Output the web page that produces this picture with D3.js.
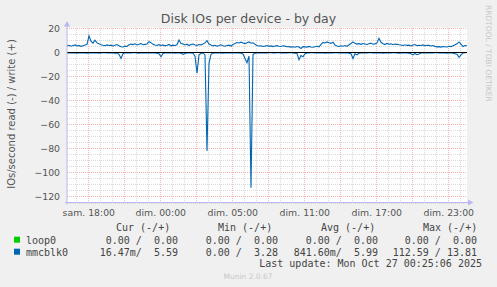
<!DOCTYPE html>
<html lang="fr">
<head>
<meta charset="utf-8">
<title>Disk IOs per device - by day</title>
<style>
  body { margin: 0; background: #f0f0f0; }
  svg { display: block; }
  .tick text { font-family: "DejaVu Sans", sans-serif; font-size: 9.33px; fill: #555; }
  .legend text { font-family: "DejaVu Sans Mono", monospace; font-size: 10px; fill: #444; white-space: pre; }
</style>
</head>
<body>
<script src="https://cdnjs.cloudflare.com/ajax/libs/d3/7.8.5/d3.min.js"></script>
<script>
// samples every 10 minutes, hours counted from "sam. 18:00"
var sampleStartHour = -1.775;
var sampleStepHours = 1 / 6;

// mmcblk0 write IOs/s (drawn above zero)
var writeIOs = [
  5.5, 6.0, 5.2, 5.8, 6.3, 5.4, 5.9, 5.1, 5.7, 6.2,
  6.8, 13.8, 9.5, 7.8, 10.2, 8.0, 7.2, 6.5, 6.0, 5.6,
  6.3, 5.8, 6.1, 5.4, 6.0, 6.6, 5.7, 4.8, 4.6, 5.3,
  5.0, 6.4, 7.0, 6.6, 7.2, 6.3, 6.9, 7.4, 6.5, 6.8,
  7.1, 9.0, 8.2, 6.8, 6.2, 5.8, 6.5, 5.9, 6.3, 5.5,
  6.0, 6.7, 5.6, 6.1, 5.8, 6.4, 10.4, 7.5, 7.2, 6.3,
  6.9, 5.8, 6.6, 7.0, 6.2, 5.9, 6.7, 6.4, 7.1, 8.0,
  9.8, 7.0, 6.2, 5.5, 6.0, 5.3, 5.8, 6.4, 5.6, 5.2,
  5.9, 6.1, 5.4, 6.6, 7.6, 8.3, 7.9, 8.6, 8.0, 7.4,
  8.2, 8.8, 7.7, 8.1, 6.8, 5.9, 5.4, 5.6, 5.0, 5.3,
  5.8, 5.1, 5.5, 4.9, 5.4, 5.7, 5.2, 5.0, 5.6, 5.3,
  4.8, 4.9, 4.5, 4.8, 4.4, 5.0, 4.6, 3.3, 4.9, 4.7,
  4.5, 5.1, 4.6, 4.4, 4.8, 5.2, 4.7, 6.8, 8.4, 7.9,
  8.8, 8.2, 7.6, 8.6, 6.2, 5.4, 5.0, 5.6, 5.2, 5.8,
  5.1, 6.4, 7.5, 8.8, 7.6, 7.0, 7.4, 6.8, 7.5, 7.1,
  6.7, 7.3, 7.8, 6.9, 7.2, 8.0, 11.8, 8.5, 7.3, 6.6,
  7.6, 6.9, 7.2, 6.5, 7.0, 6.8, 6.4, 6.3, 5.8, 6.4,
  5.9, 6.1, 5.5, 6.2, 6.6, 5.7, 6.0, 5.8, 6.3, 5.6,
  6.0, 5.9, 5.4, 5.8, 5.1, 4.7, 4.9, 4.5, 5.0, 4.8,
  4.6, 5.2, 4.9, 5.6, 6.4, 7.2, 8.8, 7.0, 5.0, 5.8,
  5.6
];

// mmcblk0 read IOs/s (drawn below zero)
var readIOs = [
  0.3, 0.2, 0.4, 0.1, 0.3, 0.5, 0.2, 0.3, 0.1, 0.4,
  0.6, 0.3, 0.2, 0.4, 0.3, 0.2, 0.5, 0.3, 0.1, 0.2,
  0.4, 0.3, 0.2, 0.3, 0.5, 0.4, 1.5, 4.9, 1.0, 0.3,
  0.2, 0.4, 0.3, 0.1, 0.2, 0.3, 0.5, 0.2, 0.3, 0.4,
  0.2, 0.3, 0.1, 0.4, 0.3, 0.6, 1.0, 3.5, 0.8, 0.3,
  0.2, 0.4, 0.3, 0.2, 0.5, 0.3, 0.4, 0.6, 1.5, 0.8,
  0.3, 0.2, 0.4, 0.6, 3.0, 17.3, 2.0, 0.6, 0.4, 2.0,
  82.0, 9.0, 1.5, 0.5, 0.3, 0.4, 0.2, 0.3, 0.5, 0.2,
  0.3, 0.4, 0.2, 0.3, 0.1, 0.3, 0.4, 0.6, 1.2, 5.0,
  8.5, 3.0, 112.6, 1.5, 0.6, 0.3, 0.2, 0.4, 0.3, 0.2,
  0.3, 0.1, 0.2, 0.4, 0.3, 0.2, 0.1, 0.3, 0.2, 0.4,
  0.3, 0.2, 0.1, 0.3, 0.5, 0.8, 6.0, 2.5, 3.5, 1.0,
  0.4, 0.3, 0.2, 0.1, 0.3, 0.2, 0.4, 0.3, 0.2, 0.5,
  0.3, 0.2, 0.4, 0.3, 0.2, 0.1, 0.3, 0.2, 0.4, 0.3,
  0.2, 0.6, 1.0, 5.0, 1.0, 2.0, 0.5, 0.3, 0.2, 0.4,
  0.3, 0.2, 0.1, 0.3, 0.2, 0.4, 0.3, 0.2, 0.5, 0.3,
  0.2, 0.4, 0.3, 0.1, 0.2, 0.3, 0.5, 0.4, 0.2, 0.3,
  0.4, 0.6, 1.0, 2.0, 0.8, 1.8, 1.2, 0.4, 0.3, 0.2,
  0.3, 0.2, 0.4, 0.3, 0.1, 0.2, 0.3, 0.4, 0.2, 0.3,
  0.5, 0.3, 0.2, 0.6, 1.0, 1.5, 4.0, 2.0, 0.4, 0.2,
  0.0
];

var xTickHours = [0, 6, 12, 18, 24, 30];
var xTickLabels = ["sam. 18:00", "dim. 00:00", "dim. 05:00", "dim. 11:00", "dim. 17:00", "dim. 23:00"];
var yTicks = [20, 0, -20, -40, -60, -80, -100, -120];

var legendNames = ["loop0", "mmcblk0"];
var legendColors = ["#00cc00", "#0066b3"];
var legendHeaders = ["Cur (-/+)", "Min (-/+)", "Avg (-/+)", "Max (-/+)"];
var legendStats = [
  ["0.00 /  0.00", "0.00 /  0.00", "0.00 /  0.00", "0.00 /  0.00"],
  ["16.47m/  5.59", "0.00 /  3.28", "841.60m/  5.99", "112.59 / 13.81"]
];
var lastUpdate = "Last update: Mon Oct 27 00:25:06 2025";

// plot box
var plot = {left: 67, right: 467, top: 27.5, bottom: 202.5};

var svg = d3.select("body").append("svg")
  .attr("width", 497)
  .attr("height", 287);

svg.append("rect").attr("width", 497).attr("height", 287).attr("fill", "#f0f0f0");

var xScale = d3.scaleLinear()
  .domain([sampleStartHour, sampleStartHour + (writeIOs.length - 1) * sampleStepHours])
  .range([plot.left, plot.right]);
var yScale = d3.scaleLinear()
  .domain([-125, 20.83])
  .range([plot.bottom, plot.top]);

svg.append("rect")
  .attr("x", plot.left).attr("y", plot.top)
  .attr("width", plot.right - plot.left).attr("height", plot.bottom - plot.top)
  .attr("fill", "#ffffff");

// grid: minor then major, dotted
function grid(axis, cls, color, transform) {
  var g = svg.append("g").attr("class", cls).attr("transform", transform).call(axis);
  g.select(".domain").remove();
  g.selectAll("line").attr("stroke", color).attr("stroke-dasharray", "1,1").attr("shape-rendering", "crispEdges");
  g.selectAll("text").remove();
}
var plotH = plot.bottom - plot.top;
var plotW = plot.right - plot.left;
grid(d3.axisBottom(xScale).tickValues(d3.range(-1, 32, 1)).tickSize(-plotH).tickFormat(""),
  "minor-x", "#dadada", "translate(0," + plot.bottom + ")");
grid(d3.axisLeft(yScale).tickValues(d3.range(-125, 21, 5)).tickSize(-plotW).tickFormat(""),
  "minor-y", "#dadada", "translate(" + plot.left + ",0)");
grid(d3.axisBottom(xScale).tickValues(d3.range(0, 31, 3)).tickSize(-plotH).tickFormat(""),
  "major-x", "#f4b6b6", "translate(0," + plot.bottom + ")");
grid(d3.axisLeft(yScale).tickValues(yTicks).tickSize(-plotW).tickFormat(""),
  "major-y", "#f4b6b6", "translate(" + plot.left + ",0)");

// series
var line = d3.line()
  .x(function(d, i) { return xScale(sampleStartHour + i * sampleStepHours); })
  .y(function(d) { return yScale(d); });

svg.append("path").datum(writeIOs.map(function() { return 0; }))
  .attr("d", line).attr("fill", "none").attr("stroke", legendColors[0]).attr("stroke-width", 1);
svg.append("path").datum(writeIOs)
  .attr("d", line).attr("fill", "none").attr("stroke", legendColors[1]).attr("stroke-width", 1.1);
svg.append("path").datum(readIOs.map(function(v) { return -v; }))
  .attr("d", line).attr("fill", "none").attr("stroke", legendColors[1]).attr("stroke-width", 1.1);

// zero rule
svg.append("line")
  .attr("x1", plot.left).attr("x2", plot.right)
  .attr("y1", yScale(0)).attr("y2", yScale(0))
  .attr("stroke", "#000").attr("stroke-width", 1.2);

// axes with arrows
var axisColor = "#b8b8f4";
svg.append("line").attr("x1", plot.left).attr("x2", plot.left)
  .attr("y1", plot.bottom + 2).attr("y2", 24).attr("stroke", axisColor);
svg.append("line").attr("x1", plot.left - 2).attr("x2", 470)
  .attr("y1", plot.bottom).attr("y2", plot.bottom).attr("stroke", axisColor);
svg.append("path").attr("d", "M64,26.5L67,21L70,26.5Z").attr("fill", axisColor);
svg.append("path").attr("d", "M468,199.5L473.5,202.5L468,205.5Z").attr("fill", axisColor);

var yAxis = svg.append("g").attr("transform", "translate(" + plot.left + ",0)")
  .call(d3.axisLeft(yScale).tickValues(yTicks).tickSize(0).tickPadding(7));
yAxis.select(".domain").remove();

var xAxis = svg.append("g").attr("transform", "translate(0," + plot.bottom + ")")
  .call(d3.axisBottom(xScale).tickValues(xTickHours).tickSize(0).tickPadding(6.5)
    .tickFormat(function(d, i) { return xTickLabels[i]; }));
xAxis.select(".domain").remove();

// texts
svg.append("text").attr("x", 248.5).attr("y", 23)
  .attr("text-anchor", "middle")
  .style("font-family", "DejaVu Sans, sans-serif").style("font-size", "12.5px").style("fill", "#555")
  .text("Disk IOs per device - by day");

svg.append("text").attr("transform", "translate(11," + 114 + ") rotate(-90)")
  .attr("text-anchor", "middle").attr("dominant-baseline", "central")
  .style("font-family", "DejaVu Sans, sans-serif").style("font-size", "10px").style("fill", "#555")
  .text("IOs/second read (-) / write (+)");

svg.append("text").attr("transform", "translate(488.5,5) rotate(90)")
  .attr("text-anchor", "start").attr("dominant-baseline", "central")
  .style("font-family", "DejaVu Sans, sans-serif").style("font-size", "7.5px").style("fill", "#c8c8c8")
  .text("RRDTOOL / TOBI OETIKER");

// legend
var legend = svg.append("g").attr("class", "legend");
var headerX = [116, 218, 321, 423];
var statRight = [178, 278, 378, 477];

legend.selectAll("text.head").data(legendHeaders).enter().append("text")
  .attr("class", "head")
  .attr("x", function(d, i) { return headerX[i]; })
  .attr("y", 230.5)
  .text(function(d) { return d; });

legendNames.forEach(function(name, r) {
  var y = 243.5 + r * 12;
  legend.append("rect").attr("x", 14).attr("y", y - 6.8).attr("width", 6).attr("height", 6)
    .attr("fill", legendColors[r]);
  legend.append("text").attr("x", 26).attr("y", y).text(name);
  legend.selectAll("text.s" + r).data(legendStats[r]).enter().append("text")
    .attr("class", "s" + r)
    .attr("x", function(d, i) { return statRight[i]; })
    .attr("y", y)
    .attr("text-anchor", "end")
    .text(function(d) { return d; });
});

legend.append("text").attr("x", 482).attr("y", 267).attr("text-anchor", "end").text(lastUpdate);

svg.append("text").attr("x", 248).attr("y", 279).attr("text-anchor", "middle")
  .style("font-family", "DejaVu Sans, sans-serif").style("font-size", "7.5px").style("fill", "#c8c8c8")
  .text("Munin 2.0.67");
</script>
</body>
</html>
